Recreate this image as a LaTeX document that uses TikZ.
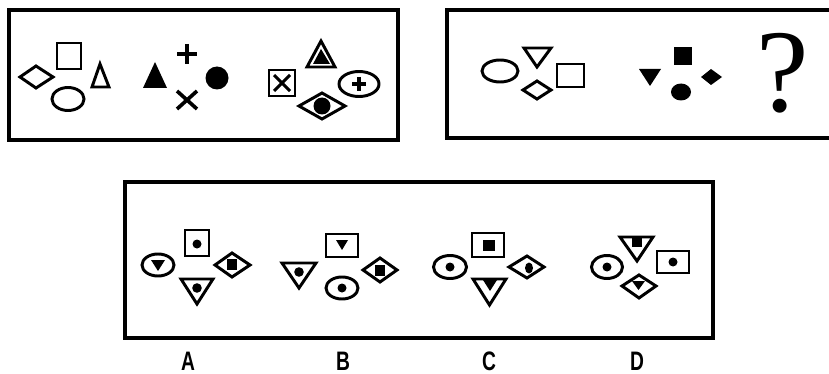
\documentclass[tikz,border=0pt]{standalone}
\usepackage{fontspec}
\newfontfamily\labfont{Liberation Sans}
\newfontfamily\qfont{Liberation Serif}
\begin{document}
\begin{tikzpicture}[x=0.025cm, y=-0.025cm,
	frame/.style={draw=black, line width=2.2pt},
	outl/.style={draw=black, line width=2.1pt, line join=miter},
	blk/.style={fill=black},
	bar/.style={draw=black, line width=2.6pt},
	optlab/.style={black, inner sep=0pt, font=\labfont\bfseries\fontsize{19}{19}\selectfont, xscale=0.72}]
	\useasboundingbox (0,0) rectangle (829,374);
	% frames
	\draw[frame] (9,10) rectangle (398,140);
	\draw[frame] (829,10) -- (447,10) -- (447,138) -- (829,138);
	\draw[frame] (125,182) rectangle (713,338);
	% first box
	\draw[outl] (20,77) -- (36,66) -- (53,77) -- (36,88) -- cycle;
	\draw[outl] (57,43) rectangle (81,69);
	\draw[outl] (92,87) -- (100,64) -- (109,87) -- cycle;
	\draw[outl] (68,99) ellipse [x radius=16, y radius=11.5];
	\fill[blk] (143,88) -- (155,62) -- (167,88) -- cycle;
	\draw[bar] (177,54) -- (197,54);
	\draw[bar] (187,44) -- (187,64);
	\fill[blk] (217,78) circle (11.5);
	\draw[bar] (177,91) -- (197,109);
	\draw[bar] (177,109) -- (197,91);
	\draw[outl] (269,70) rectangle (295,96);
	\draw[outl] (274,75) -- (290,91);
	\draw[outl] (274,91) -- (290,75);
	\draw[outl] (307,67) -- (321,41) -- (335,67) -- cycle;
	\fill[blk] (313,64) -- (321,49) -- (330,64) -- cycle;
	\draw[outl] (359,84) ellipse [x radius=20, y radius=12.5];
	\draw[bar] (352,84) -- (366,84);
	\draw[bar] (359,77) -- (359,91);
	\draw[outl] (299,106) -- (322,93) -- (345,106) -- (322,119) -- cycle;
	\fill[blk] (322,106) circle (8.5);
	% second box
	\draw[outl] (500,71) ellipse [x radius=18, y radius=11];
	\draw[outl] (524,48) -- (551,48) -- (537,67) -- cycle;
	\draw[outl] (523,90) -- (537,81) -- (551,90) -- (537,99) -- cycle;
	\draw[outl] (557,64) rectangle (584,87);
	\fill[blk] (639,69) -- (661,69) -- (650,86) -- cycle;
	\fill[blk] (674,47) rectangle (692,65);
	\fill[blk] (681,92) ellipse [x radius=10, y radius=8.5];
	\fill[blk] (701,77) -- (711,69) -- (722,77) -- (711,85) -- cycle;
	\node[black, inner sep=0pt] (qmark) at (783,73) {\qfont\fontsize{84}{84}\selectfont ?};
	% option A
	\draw[outl] (158,265) ellipse [x radius=16, y radius=11];
	\fill[blk] (151,260) -- (165,260) -- (158,271) -- cycle;
	\draw[outl] (185,230) rectangle (209,256);
	\fill[blk] (197,244) circle (4.5);
	\draw[outl] (215,265) -- (232,253) -- (250,265) -- (232,277) -- cycle;
	\fill[blk] (227,259) rectangle (237,270);
	\draw[outl] (181,279) -- (213,279) -- (197,304) -- cycle;
	\fill[blk] (197,288) circle (4.8);
	% option B
	\draw[outl] (282,263) -- (316,263) -- (299,288) -- cycle;
	\fill[blk] (299,272) circle (4.8);
	\draw[outl] (326,234) rectangle (358,257);
	\fill[blk] (336,240) -- (348,240) -- (342,250) -- cycle;
	\draw[outl] (342,288) ellipse [x radius=16, y radius=11];
	\fill[blk] (342,288) circle (4.5);
	\draw[outl] (363,270) -- (380,258) -- (397,270) -- (380,282) -- cycle;
	\fill[blk] (375,265) rectangle (385,276);
	% option C
	\draw[outl] (450,267) ellipse [x radius=16.5, y radius=11.5];
	\fill[blk] (450,267) circle (4.5);
	\draw[outl] (472,233) rectangle (504,257);
	\fill[blk] (483,240) rectangle (495,251);
	\draw[outl] (509,267) -- (527,256) -- (544,267) -- (527,278) -- cycle;
	\fill[blk] (529,268) ellipse [x radius=4, y radius=5.5];
	\draw[outl] (473,279) -- (506,279) -- (489.5,305) -- cycle;
	\fill[blk] (483,280) -- (497,280) -- (490,291) -- cycle;
	% option D
	\draw[outl] (607,267) ellipse [x radius=15.5, y radius=11.5];
	\fill[blk] (607,267) circle (4.5);
	\draw[outl] (620,237) -- (653,237) -- (637,261) -- cycle;
	\fill[blk] (632,237) rectangle (642,247);
	\draw[outl] (657,251) rectangle (689,273);
	\fill[blk] (673,262) circle (4.5);
	\draw[outl] (622,286) -- (639,275) -- (656,286) -- (639,298) -- cycle;
	\fill[blk] (632,281) -- (645,281) -- (638.5,290) -- cycle;
	% labels
	\node[optlab] (labA) at (188,361) {A};
	\node[optlab] (labB) at (343,361) {B};
	\node[optlab] (labC) at (489,361) {C};
	\node[optlab] (labD) at (637,361) {D};
\end{tikzpicture}
\end{document}
